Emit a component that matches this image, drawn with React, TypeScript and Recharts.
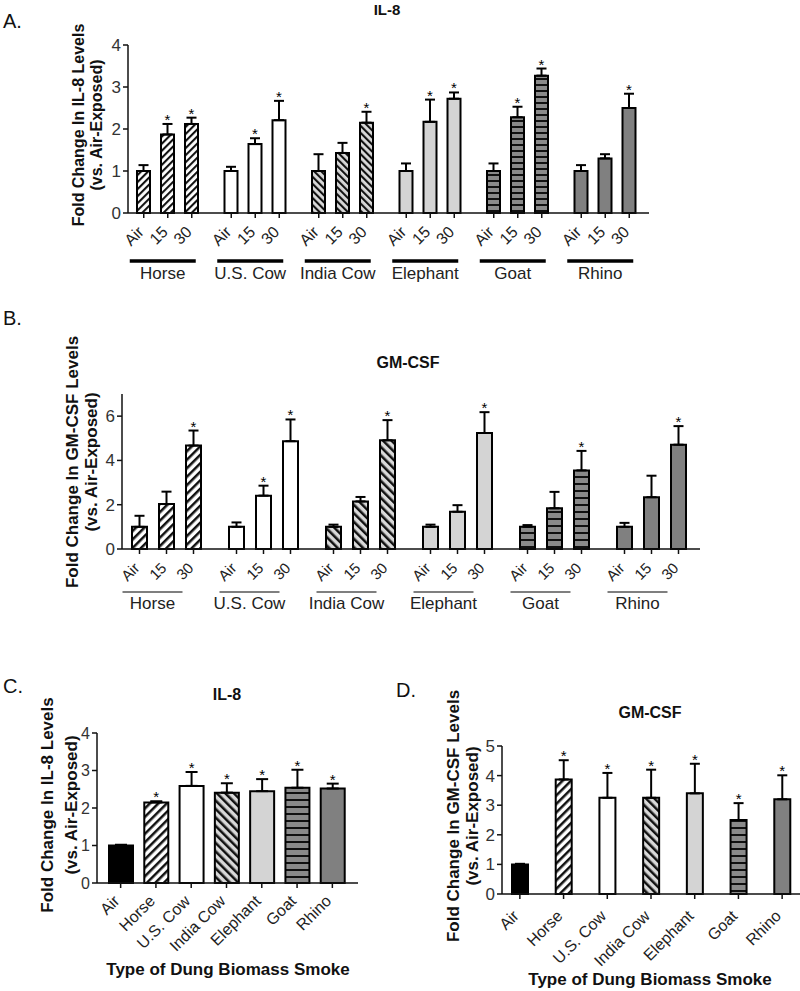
import React from 'react';
import { Bar, BarChart, Cell, ErrorBar, LabelList, XAxis, YAxis } from 'recharts';

const FONT = '"Liberation Sans", Arial, Helvetica, sans-serif';

const groups = ['Horse', 'U.S. Cow', 'India Cow', 'Elephant', 'Goat', 'Rhino'];
const doses = ['Air', '15', '30'];

// A. IL-8, per dung type and exposure (Air / 15 / 30 min)
const il8Air = [1, 1, 1, 1, 1, 1];
const il8AirErr = [0.14, 0.1, 0.4, 0.18, 0.18, 0.14];
const il8Min15 = [1.87, 1.64, 1.43, 2.17, 2.28, 1.3];
const il8Min15Err = [0.25, 0.14, 0.24, 0.53, 0.25, 0.1];
const il8Min30 = [2.12, 2.21, 2.15, 2.72, 3.27, 2.5];
const il8Min30Err = [0.15, 0.46, 0.26, 0.15, 0.17, 0.34];
const il8Sig15 = [true, true, false, true, true, false];
const il8Sig30 = [true, true, true, true, true, true];

// B. GM-CSF, per dung type and exposure
const gmAir = [1, 1, 1, 1, 1, 1];
const gmAirErr = [0.5, 0.2, 0.1, 0.1, 0.08, 0.18];
const gmMin15 = [2.03, 2.41, 2.15, 1.68, 1.84, 2.34];
const gmMin15Err = [0.56, 0.45, 0.2, 0.3, 0.74, 0.97];
const gmMin30 = [4.67, 4.87, 4.91, 5.24, 3.55, 4.71];
const gmMin30Err = [0.68, 0.98, 0.91, 0.94, 0.88, 0.84];
const gmSig15 = [false, true, false, false, false, false];
const gmSig30 = [true, true, true, true, true, true];

// C. / D. pooled by smoke type
const smokeTypes = ['Air', 'Horse', 'U.S. Cow', 'India Cow', 'Elephant', 'Goat', 'Rhino'];
const il8Pooled = [1.0, 2.15, 2.59, 2.41, 2.45, 2.54, 2.52];
const il8PooledErr = [0.02, 0.03, 0.37, 0.25, 0.32, 0.48, 0.13];
const il8PooledSig = [false, true, true, true, true, true, true];
const gmPooled = [1.0, 3.87, 3.25, 3.25, 3.4, 2.5, 3.2];
const gmPooledErr = [0.02, 0.65, 0.84, 0.95, 1.0, 0.57, 0.81];
const gmPooledSig = [false, true, true, true, true, true, true];

const patternDefs = (p: string, pitch: number) => (
  <defs>
    <pattern id={`${p}-fwd`} width={pitch} height={pitch} patternUnits="userSpaceOnUse" patternTransform="rotate(45)">
      <rect width={pitch} height={pitch} fill="#ffffff" />
      <rect width={pitch * 0.42} height={pitch} fill="#111111" />
    </pattern>
    <pattern id={`${p}-back`} width={pitch} height={pitch} patternUnits="userSpaceOnUse" patternTransform="rotate(-45)">
      <rect width={pitch} height={pitch} fill="#d9d9d9" />
      <rect width={pitch * 0.42} height={pitch} fill="#111111" />
    </pattern>
    <pattern id={`${p}-horiz`} width={4} height={pitch + 1} patternUnits="userSpaceOnUse">
      <rect width={4} height={pitch + 1} fill="#8a8a8a" />
      <rect width={4} height={2} fill="#111111" />
    </pattern>
  </defs>
);

const groupFills = (p: string) => [
  `url(#${p}-fwd)`, '#ffffff', `url(#${p}-back)`, '#d4d4d4', `url(#${p}-horiz)`, '#808080',
];
const pooledFills = (p: string) => ['#000000', ...groupFills(p)];

// asterisk above the error-bar cap
const star = (vals: number[], errs: number[], sig: boolean[], size: number) => (props: any) => {
  const vb = props.viewBox ?? props;
  const i = props.index;
  if (!sig[i]) return null;
  const perUnit = vb.height / vals[i];
  const cap = vb.y + vb.height - (vals[i] + errs[i]) * perUnit;
  return (
    <text x={vb.x + vb.width / 2} y={cap + 1} textAnchor="middle" fontSize={size} fill="#000" fontFamily={FONT}>
      *
    </text>
  );
};

const DoseTick = (props: any) => {
  const { x, y, payload, spacing, fs, under } = props;
  return (
    <g fontFamily={FONT}>
      {doses.map((d, k) => {
        const bx = x + (k - 1) * spacing;
        const ax = bx + 1;
        const ay = y + 20;
        return (
          <g key={d}>
            <line x1={bx} x2={bx} y1={y} y2={y + 5} stroke="#111" strokeWidth={1.5} />
            <text x={ax} y={ay} textAnchor="end" fontSize={fs} fill="#222" transform={`rotate(-45 ${ax} ${ay})`}>
              {d}
            </text>
          </g>
        );
      })}
      <line x1={x + under.l} x2={x + under.r} y1={y + under.y} y2={y + under.y} stroke="#000" strokeWidth={under.w} />
      <text x={x + (under.l + under.r) / 2} y={y + under.ty} textAnchor="middle" fontSize={under.fs} fill="#222">
        {payload.value}
      </text>
    </g>
  );
};

const TypeTick = (props: any) => {
  const { x, y, payload, fs, dy } = props;
  const ay = y + dy;
  return (
    <g fontFamily={FONT}>
      <line x1={x} x2={x} y1={y} y2={y + 5} stroke="#111" strokeWidth={1.5} />
      <text x={x} y={ay} textAnchor="end" fontSize={fs} fill="#222" transform={`rotate(-45 ${x} ${ay})`}>
        {payload.value}
      </text>
    </g>
  );
};

const yTick = (fs: number) => ({ fontSize: fs, fill: '#333', fontFamily: FONT });

const DosePanel = (props: any) => {
  const { id, vals, errs, sigs, box, margin, yWidth, xHeight, domain, ticks, pad, barSize, barGap, under, fs, yfs, pitch } = props;
  const rows = groups.map((g, i) => ({
    group: g,
    air: vals[0][i], airErr: [0, errs[0][i]],
    m15: vals[1][i], m15Err: [0, errs[1][i]],
    m30: vals[2][i], m30Err: [0, errs[2][i]],
  }));
  const fills = groupFills(id);
  const keys = ['air', 'm15', 'm30'];
  const spacing = barSize + barGap;
  return (
    <div style={{ position: 'absolute', ...box }}>
      <BarChart width={box.width} height={box.height} data={rows} margin={margin} barSize={barSize} barGap={barGap}>
        {patternDefs(id, pitch)}
        <XAxis
          dataKey="group"
          height={xHeight}
          padding={pad}
          tickSize={0}
          tickMargin={0}
          tickLine={false}
          axisLine={{ stroke: '#111', strokeWidth: 1.5 }}
          interval={0}
          tick={<DoseTick spacing={spacing} fs={fs} under={under} />}
        />
        <YAxis
          width={yWidth}
          domain={domain}
          ticks={ticks}
          tickSize={5}
          tickMargin={2}
          axisLine={{ stroke: '#111', strokeWidth: 1.5 }}
          tickLine={{ stroke: '#111', strokeWidth: 1.5 }}
          tick={yTick(yfs)}
        />
        {keys.map((k, s) => (
          <Bar key={k} dataKey={k} stroke="#000" strokeWidth={2} isAnimationActive={false}>
            {rows.map((r, i) => (
              <Cell key={r.group} fill={fills[i]} />
            ))}
            <ErrorBar dataKey={`${k}Err`} width={5} stroke="#000" strokeWidth={2} direction="y" isAnimationActive={false} />
            <LabelList dataKey={k} content={star(vals[s], errs[s], sigs[s], 15)} />
          </Bar>
        ))}
      </BarChart>
    </div>
  );
};

const PooledPanel = (props: any) => {
  const { id, vals, errs, sig, box, margin, yWidth, xHeight, domain, ticks, pad, barSize, capW, fs, yfs, dy, pitch } = props;
  const rows = smokeTypes.map((t, i) => ({ type: t, value: vals[i], err: [0, errs[i]] }));
  const fills = pooledFills(id);
  return (
    <div style={{ position: 'absolute', ...box }}>
      <BarChart width={box.width} height={box.height} data={rows} margin={margin} barSize={barSize}>
        {patternDefs(id, pitch)}
        <XAxis
          dataKey="type"
          height={xHeight}
          padding={pad}
          tickSize={0}
          tickMargin={0}
          tickLine={false}
          axisLine={{ stroke: '#111', strokeWidth: 1.5 }}
          interval={0}
          tick={<TypeTick fs={fs} dy={dy} />}
        />
        <YAxis
          width={yWidth}
          domain={domain}
          ticks={ticks}
          tickSize={5}
          tickMargin={2}
          axisLine={{ stroke: '#111', strokeWidth: 1.5 }}
          tickLine={{ stroke: '#111', strokeWidth: 1.5 }}
          tick={yTick(yfs)}
        />
        <Bar dataKey="value" stroke="#000" strokeWidth={2} isAnimationActive={false}>
          {rows.map((r, i) => (
            <Cell key={r.type} fill={fills[i]} />
          ))}
          <ErrorBar dataKey="err" width={capW} stroke="#000" strokeWidth={2} direction="y" isAnimationActive={false} />
          <LabelList dataKey="value" content={star(vals, errs, sig, 15)} />
        </Bar>
      </BarChart>
    </div>
  );
};

const YLabel = ({ x1, x2, cy, lines, fs }: any) => (
  <g fontFamily={FONT} fontWeight="bold" fontSize={fs} fill="#111">
    <text x={x1} y={cy} textAnchor="middle" transform={`rotate(-90 ${x1} ${cy})`}>{lines[0]}</text>
    <text x={x2} y={cy} textAnchor="middle" transform={`rotate(-90 ${x2} ${cy})`}>{lines[1]}</text>
  </g>
);

export default function App() {
  return (
    <div style={{ position: 'absolute', left: 0, top: 0, width: 800, height: 991, overflow: 'hidden', background: '#fff', fontFamily: FONT }}>
      <DosePanel
        id="pa"
        vals={[il8Air, il8Min15, il8Min30]}
        errs={[il8AirErr, il8Min15Err, il8Min30Err]}
        sigs={[il8Air.map(() => false), il8Sig15, il8Sig30]}
        box={{ left: 0, top: 0, width: 800, height: 290 }}
        margin={{ top: 45, right: 151, bottom: 0, left: 0 }}
        yWidth={128}
        xHeight={77}
        domain={[0, 4]}
        ticks={[0, 1, 2, 3, 4]}
        pad={{ left: -4, right: 0 }}
        barSize={13}
        barGap={11}
        fs={16}
        yfs={17}
        pitch={5}
        under={{ l: -38, r: 28, y: 48, w: 3.5, ty: 66, fs: 17 }}
      />
      <DosePanel
        id="pb"
        vals={[gmAir, gmMin15, gmMin30]}
        errs={[gmAirErr, gmMin15Err, gmMin30Err]}
        sigs={[gmAir.map(() => false), gmSig15, gmSig30]}
        box={{ left: 0, top: 280, width: 800, height: 340 }}
        margin={{ top: 114, right: 100, bottom: 0, left: 0 }}
        yWidth={122}
        xHeight={71}
        domain={[0, 7]}
        ticks={[0, 2, 4, 6]}
        pad={{ left: -4, right: 0 }}
        barSize={15}
        barGap={12}
        fs={15}
        yfs={17}
        pitch={6}
        under={{ l: -44, r: 16, y: 43, w: 1.2, ty: 60, fs: 17 }}
      />
      <PooledPanel
        id="pc"
        vals={il8Pooled}
        errs={il8PooledErr}
        sig={il8PooledSig}
        box={{ left: 0, top: 680, width: 400, height: 311 }}
        margin={{ top: 53, right: 42, bottom: 0, left: 0 }}
        yWidth={97}
        xHeight={108}
        domain={[0, 4]}
        ticks={[0, 1, 2, 3, 4]}
        pad={{ left: 6, right: 8 }}
        barSize={24}
        capW={6}
        fs={16}
        yfs={16}
        dy={19}
        pitch={6}
      />
      <PooledPanel
        id="pd"
        vals={gmPooled}
        errs={gmPooledErr}
        sig={gmPooledSig}
        box={{ left: 390, top: 680, width: 410, height: 311 }}
        margin={{ top: 66, right: 0, bottom: 0, left: 0 }}
        yWidth={112}
        xHeight={97}
        domain={[0, 5]}
        ticks={[0, 1, 2, 3, 4, 5]}
        pad={{ left: -4, right: -4 }}
        barSize={16}
        capW={5}
        fs={16}
        yfs={17}
        dy={23}
        pitch={6}
      />
      <svg width={800} height={991} style={{ position: 'absolute', left: 0, top: 0, pointerEvents: 'none' }}>
        <g fontFamily={FONT} fill="#111">
          <text x={3} y={28} fontSize={20}>A.</text>
          <text x={3} y={325} fontSize={20}>B.</text>
          <text x={3} y={693} fontSize={20}>C.</text>
          <text x={396} y={697} fontSize={20}>D.</text>
          <g fontWeight="bold">
            <text x={387} y={15} fontSize={15} textAnchor="middle">IL-8</text>
            <text x={408} y={368} fontSize={16} textAnchor="middle">GM-CSF</text>
            <text x={227} y={700} fontSize={16} textAnchor="middle">IL-8</text>
            <text x={650} y={718} fontSize={16} textAnchor="middle">GM-CSF</text>
            <text x={228} y={975} fontSize={17} textAnchor="middle">Type of Dung Biomass Smoke</text>
            <text x={650} y={985} fontSize={17} textAnchor="middle">Type of Dung Biomass Smoke</text>
          </g>
        </g>
        <YLabel x1={84} x2={102} cy={125} fs={16} lines={['Fold Change In IL-8 Levels', '(vs. Air-Exposed)']} />
        <YLabel x1={78} x2={97} cy={462} fs={17} lines={['Fold Change In GM-CSF Levels', '(vs. Air-Exposed)']} />
        <YLabel x1={53} x2={77} cy={805} fs={17} lines={['Fold Change In IL-8 Levels', '(vs. Air-Exposed)']} />
        <YLabel x1={459} x2={478} cy={816} fs={17} lines={['Fold Change In GM-CSF Levels', '(vs. Air-Exposed)']} />
      </svg>
    </div>
  );
}
